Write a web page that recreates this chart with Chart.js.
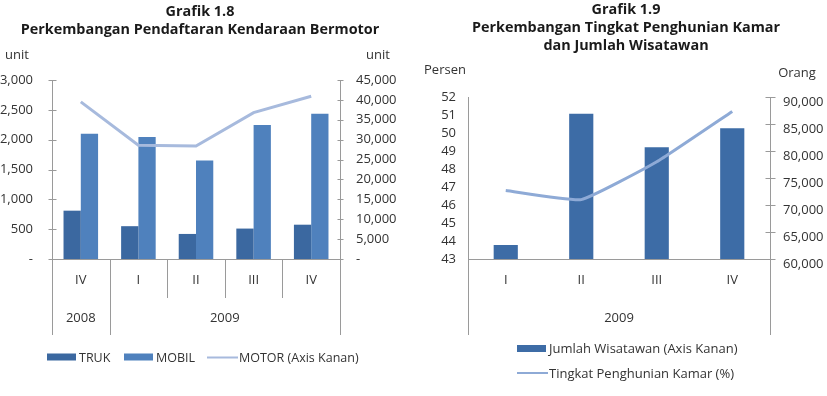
<!DOCTYPE html>
<html>
<head>
<meta charset="utf-8">
<script src="https://cdn.jsdelivr.net/npm/chart.js@4.4.1/dist/chart.umd.min.js"></script>
<style>
body{margin:0;background:#fff;font-family:"Open Sans",sans-serif;color:#333;}
#page{position:relative;width:827px;height:396px;overflow:hidden;}
canvas{position:absolute;top:0;}
.t{position:absolute;transform:translate(-50%,-50%);white-space:nowrap;}
.title{font-weight:bold;font-size:14.4px;color:#1a1a1a;}
.unit{font-size:13px;color:#333;}
.lg{position:absolute;transform:translateY(-50%);display:flex;align-items:center;font-size:12.5px;color:#333;white-space:nowrap;}
.lg.r{font-size:13px;}
.sw{display:inline-block;width:29px;height:7px;margin-right:3px;}
.ln{display:inline-block;width:31px;height:2px;margin-right:1px;}
</style>
</head>
<body>
<div id="page">
  <canvas id="c1" width="414" height="396" style="left:0"></canvas>
  <canvas id="c2" width="413" height="396" style="left:414px"></canvas>

  <div class="t title" style="left:200px;top:10px">Grafik 1.8</div>
  <div class="t title" style="left:200px;top:28px">Perkembangan Pendaftaran Kendaraan Bermotor</div>
  <div class="t unit" style="left:17px;top:54px">unit</div>
  <div class="t unit" style="left:378px;top:54px">unit</div>

  <div class="t title" style="left:626px;top:8px">Grafik 1.9</div>
  <div class="t title" style="left:626px;top:26px">Perkembangan Tingkat Penghunian Kamar</div>
  <div class="t title" style="left:626px;top:44px">dan Jumlah Wisatawan</div>
  <div class="t unit" style="left:445px;top:69px">Persen</div>
  <div class="t unit" style="left:797px;top:72px">Orang</div>

  <div class="lg" style="left:47px;top:357px"><span class="sw" style="background:#3b68a0"></span>TRUK</div>
  <div class="lg" style="left:124px;top:357px"><span class="sw" style="background:#4f81bd"></span>MOBIL</div>
  <div class="lg" style="left:207px;top:357px"><span class="ln" style="background:#a7badd"></span>MOTOR (Axis Kanan)</div>

  <div class="lg r" style="left:517px;top:348px"><span class="sw" style="background:#3d6ca6"></span>Jumlah Wisatawan (Axis Kanan)</div>
  <div class="lg r" style="left:517px;top:373px"><span class="ln" style="background:#8eaad6"></span>Tingkat Penghunian Kamar (%)</div>
</div>

<script>
// Grafik 1.8
const quarters1 = ['IV', 'I', 'II', 'III', 'IV'];
const years1 = ['2008', '2009'];
const yearSpan1 = [1, 4];
const truk = [810, 550, 420, 510, 575];
const mobil = [2100, 2045, 1650, 2245, 2435];
const motor = [39500, 28600, 28400, 36800, 40900];

// Grafik 1.9
const quarters2 = ['I', 'II', 'III', 'IV'];
const years2 = ['2009'];
const yearSpan2 = [4];
const wisatawan = [62600, 86900, 80700, 84200];
const hunian = [46.8, 46.3, 48.4, 51.2];

const axisColor = '#9a9a9a';
const textColor = '#333';
const tickFont = {family: 'Open Sans', size: 13};

function fmt(v){
    return v === 0 ? '-' : v.toLocaleString('en-US');
}

// draws cross ticks, category separators and the year row under the x axis
const axisDecor = {
    id: 'axisDecor',
    afterDraw(chart, args, opts){
        const ctx = chart.ctx;
        const area = chart.chartArea;
        const x = chart.scales.x;
        ctx.save();
        ctx.strokeStyle = axisColor;
        ctx.lineWidth = 1;

        opts.crossTicks.forEach((c) => {
            const s = chart.scales[c.id];
            const ax = Math.round(s.position === 'left' ? area.left : area.right) + 0.5;
            s.ticks.forEach((t, i) => {
                const y = Math.round(s.getPixelForTick(i)) + 0.5;
                ctx.beginPath();
                ctx.moveTo(ax - c.len, y);
                ctx.lineTo(ax + c.len, y);
                ctx.stroke();
            });
        });

        const half = (x.getPixelForValue(1) - x.getPixelForValue(0)) / 2;
        const bottom = area.bottom;
        const vline = (px, len) => {
            const xx = Math.round(px) + 0.5;
            ctx.beginPath();
            ctx.moveTo(xx, bottom);
            ctx.lineTo(xx, bottom + len);
            ctx.stroke();
        };

        // outer lines
        vline(area.left, opts.longDrop);
        vline(area.right, opts.longDrop);

        let start = 0;
        ctx.fillStyle = textColor;
        ctx.font = '13px "Open Sans"';
        ctx.textAlign = 'center';
        ctx.textBaseline = 'middle';
        opts.years.forEach((yr, gi) => {
            const end = start + opts.spans[gi] - 1;
            if (opts.separators) {
                for (let i = start + 1; i <= end; i++) vline(x.getPixelForValue(i) - half, opts.shortDrop);
                if (gi > 0) vline(x.getPixelForValue(start) - half, opts.longDrop);
            }
            const cx = (x.getPixelForValue(start) + x.getPixelForValue(end)) / 2;
            ctx.fillText(yr, cx, bottom + opts.yearY);
            start = end + 1;
        });
        ctx.restore();
    }
};

const common = {
    responsive: false,
    animation: false,
    events: []
};

new Chart(document.getElementById('c1'), {
    type: 'bar',
    data: {
        labels: quarters1,
        datasets: [
            {type: 'line', label: 'MOTOR (Axis Kanan)', data: motor, yAxisID: 'y2',
             borderColor: '#a7badd', borderWidth: 3, pointRadius: 0, tension: 0, order: 0},
            {label: 'TRUK', data: truk, yAxisID: 'y', backgroundColor: '#3b68a0',
             categoryPercentage: 0.6, barPercentage: 1, order: 1},
            {label: 'MOBIL', data: mobil, yAxisID: 'y', backgroundColor: '#4f81bd',
             categoryPercentage: 0.6, barPercentage: 1, order: 1}
        ]
    },
    options: {
        ...common,
        layout: {padding: {top: 80, left: 0, right: 0, bottom: 0}},
        plugins: {
            legend: {display: false},
            tooltip: {enabled: false},
            axisDecor: {
                crossTicks: [{id: 'y', len: 4}, {id: 'y2', len: 3}],
                separators: true, shortDrop: 39, longDrop: 76, yearY: 59,
                years: years1, spans: yearSpan1
            }
        },
        scales: {
            x: {
                grid: {display: false, drawTicks: false},
                border: {display: true, color: axisColor},
                ticks: {padding: 13, color: textColor, font: tickFont, autoSkip: false, maxRotation: 0},
                afterFit(s){ s.height = 137; }
            },
            y: {
                position: 'left', min: 0, max: 3000,
                grid: {display: false, drawTicks: false},
                border: {display: true, color: axisColor},
                ticks: {stepSize: 500, padding: 19, autoSkip: false, color: textColor, font: tickFont, callback: fmt},
                afterFit(s){ s.width = 52; }
            },
            y2: {
                position: 'right', min: 0, max: 45000,
                grid: {display: false, drawTicks: false},
                border: {display: true, color: axisColor},
                ticks: {stepSize: 5000, padding: 16, autoSkip: false, color: textColor, font: tickFont, callback: fmt},
                afterFit(s){ s.width = 74; }
            }
        }
    },
    plugins: [axisDecor]
});

new Chart(document.getElementById('c2'), {
    type: 'bar',
    data: {
        labels: quarters2,
        datasets: [
            {type: 'line', label: 'Tingkat Penghunian Kamar (%)', data: hunian, yAxisID: 'y',
             borderColor: '#8eaad6', borderWidth: 3, pointRadius: 0, tension: 0.12, order: 0},
            {label: 'Jumlah Wisatawan (Axis Kanan)', data: wisatawan, yAxisID: 'y2',
             backgroundColor: '#3d6ca6', categoryPercentage: 0.32, barPercentage: 1, order: 1}
        ]
    },
    options: {
        ...common,
        layout: {padding: {top: 97, left: 0, right: 0, bottom: 0}},
        plugins: {
            legend: {display: false},
            tooltip: {enabled: false},
            axisDecor: {
                crossTicks: [{id: 'y2', len: 5}],
                separators: false, shortDrop: 0, longDrop: 76, yearY: 59,
                years: years2, spans: yearSpan2
            }
        },
        scales: {
            x: {
                grid: {display: false, drawTicks: false},
                border: {display: true, color: axisColor},
                ticks: {padding: 13, color: textColor, font: tickFont, autoSkip: false, maxRotation: 0},
                afterFit(s){ s.height = 137; }
            },
            y: {
                position: 'left', min: 43, max: 52,
                grid: {display: false, drawTicks: false},
                border: {display: true, color: axisColor},
                ticks: {stepSize: 1, padding: 12, autoSkip: false, color: textColor, font: tickFont},
                afterFit(s){ s.width = 54; }
            },
            y2: {
                position: 'right', min: 60000, max: 90000,
                grid: {display: false, drawTicks: false},
                border: {display: true, color: axisColor},
                ticks: {stepSize: 5000, padding: 13, autoSkip: false, labelOffset: 5, color: textColor, font: tickFont, callback: fmt},
                afterFit(s){ s.width = 57; }
            }
        }
    },
    plugins: [axisDecor]
});
</script>
</body>
</html>
